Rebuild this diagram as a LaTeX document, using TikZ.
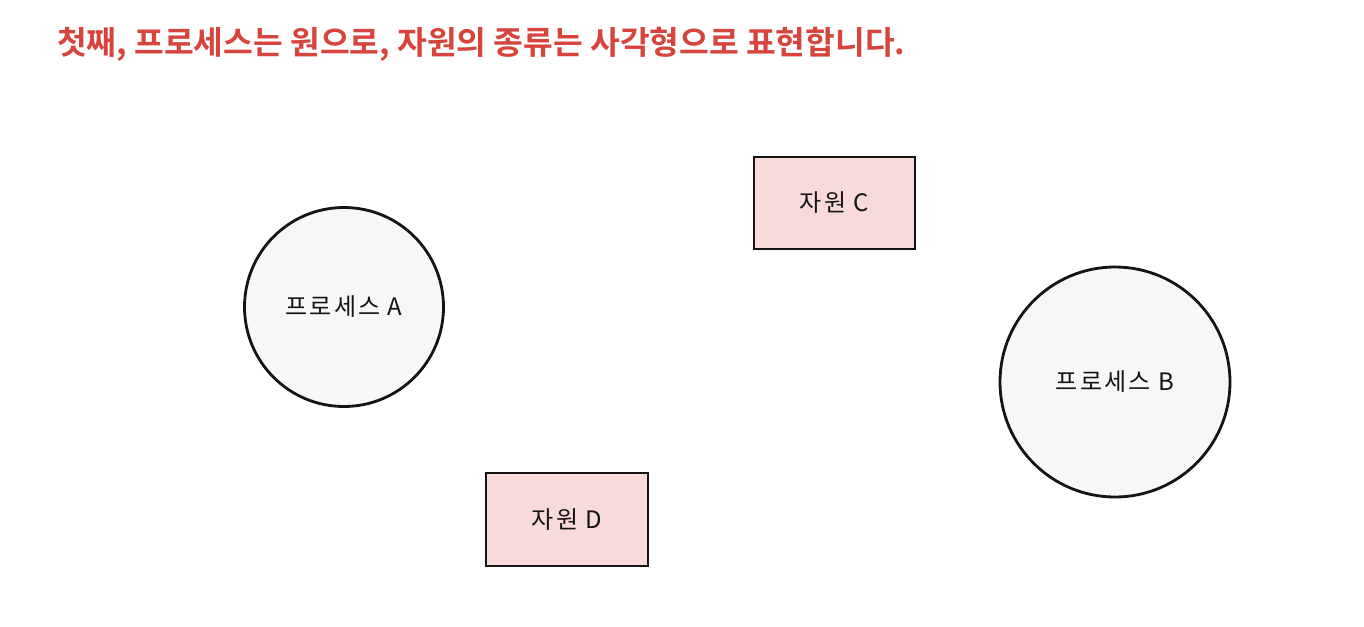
\documentclass[tikz,border=0pt]{standalone}
\usepackage{fontspec}
\newfontfamily\krbold{Noto Sans CJK KR Bold}
\newfontfamily\kr[LetterSpace=9]{Noto Sans CJK KR}
\definecolor{titlered}{RGB}{214,68,60}
\definecolor{procfill}{RGB}{247,247,247}
\definecolor{resfill}{RGB}{248,218,218}
\definecolor{ink}{RGB}{20,20,20}
\begin{document}
\begin{tikzpicture}[x=1pt,y=-1pt,
  proc/.style={circle,draw=ink,line width=2.8pt,fill=procfill,inner sep=0pt,font=\kr\fontsize{24}{28}\selectfont,text=ink},
  res/.style={rectangle,draw=ink,line width=2.8pt,fill=resfill,inner sep=0pt,font=\kr\fontsize{24}{28}\selectfont,text=ink}]
\useasboundingbox[fill=white] (0,0) rectangle (1364,626);
\node[anchor=base west,text=titlered,font=\krbold\fontsize{32.3}{38}\selectfont,inner sep=0pt] (title) at (57,55) {첫째, 프로세스는 원으로, 자원의 종류는 사각형으로 표현합니다.};
\node[proc,minimum size=199pt] (A) at (344,307) {프로세스 A};
\node[proc,minimum size=230pt] (B) at (1115,382) {프로세스 B};
\node[res,minimum width=161pt,minimum height=92pt] (C) at (834.5,203) {자원 C};
\node[res,minimum width=162pt,minimum height=93pt] (D) at (567,519.5) {자원 D};
\end{tikzpicture}
\end{document}
